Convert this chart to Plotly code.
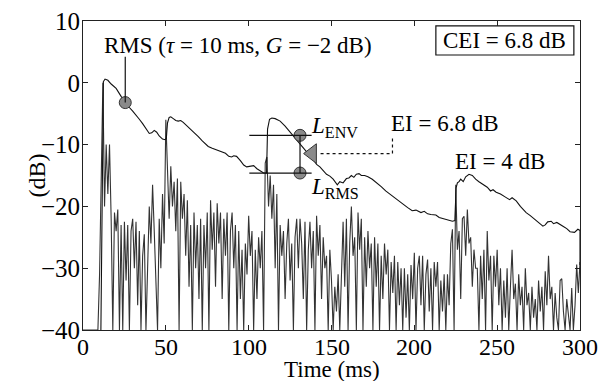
import plotly.graph_objects as go

# ---------------- data ----------------
sig_t = list(range(0, 301))
sig_db = [
    -40, -40, -40, -40, -40, -40, -40, -40, -40, -40,
    -31, -12, 0, -20, -10, -18, -10, -22, -40, -21,
    -24, -20.5, -40, -23, -40, -22.5, -32, -23, -40, -24,
    -22, -30, -22.5, -36, -24, -40, -28, -24.5, -40, -30,
    -20, -26, -16.5, -24, -31, -40, -22, -30, -18, -26,
    -6, -14, -22, -13.5, -20, -16, -24, -15.5, -40, -16,
    -22, -18, -28, -19, -33, -23, -40, -21, -30, -23,
    -35, -22, -40, -23, -30, -21, -40, -19, -27, -21,
    -33, -19.5, -26, -21, -35, -22, -28, -21, -40, -24,
    -21, -30, -23, -40, -24, -35, -27, -40, -26, -31,
    -21.5, -28, -24, -40, -27, -35, -25, -30, -24, -40,
    -13, -12, -20, -15, -22, -16.5, -30, -18, -40, -23,
    -28, -24, -35, -26, -22, -32, -26, -40, -25, -22,
    -30, -22, -26, -35, -22.5, -40, -27, -22.5, -30, -24,
    -40, -21.5, -28, -23, -35, -25, -30, -28, -40, -27,
    -32, -40, -33, -37, -31, -40, -30, -22.5, -33, -22,
    -40, -26, -20, -28, -25, -40, -21, -27, -22, -40,
    -25, -33, -24, -30, -26, -40, -25, -33, -26, -40,
    -28, -35, -26, -31, -27, -40, -29, -34, -28, -40,
    -29, -36, -30, -40, -30, -38, -31, -40, -29.5, -35,
    -27.5, -40, -30, -28, -36, -28, -40, -31, -28.6, -37,
    -30, -40, -29, -33, -29, -40, -32, -37, -31, -40,
    -31, -36, -26, -23.7, -40, -16.5, -27, -24, -35, -22,
    -21.6, -28, -20.5, -26, -25, -33, -27, -30, -30, -40,
    -28, -35, -27, -40, -24, -32, -28, -40, -28, -33,
    -27, -36, -30, -40, -32, -38, -30, -40, -33, -27,
    -35, -32.5, -40, -31, -36, -33, -40, -30, -36, -34,
    -40, -33, -38, -35, -40, -32, -37, -33, -40, -30.5,
    -36, -28, -35, -33, -40, -34, -38, -40, -32, -31.7,
    -37, -40, -35, -38, -40, -33.2, -40, -36, -29.4, -34,
    -29,
]

rms_t = [10.8, 12.3, 13.3, 15, 17, 20, 23, 25.5, 28, 30, 32, 34, 36, 38, 40, 41.5, 43, 44.5, 46, 48, 49.5,
         50.3, 51, 52, 53, 54.5, 56, 57.5, 59, 60.5, 63, 66, 69.6, 72, 75.6, 78, 80, 83.7, 86, 88, 89.7, 91,
         92.7, 95, 97, 98.8, 100.8, 103, 105, 107, 109, 110.8, 111.4, 112.6, 114, 116, 119, 122, 125, 128,
         131, 134, 136, 139, 141, 143, 145, 147, 149, 151, 153.5, 155, 157, 159, 160.5, 162, 163.5, 165,
         166.6, 168, 170, 172, 174.6, 177, 180, 182.7, 185, 188, 190.7, 193, 196, 198.7, 201, 204, 206, 208,
         210, 213, 215, 218, 220, 223, 224.5, 225.2, 226, 227, 228, 229.5, 231, 233, 235, 237, 239, 240, 242,
         244, 246, 247.5, 249.4, 252, 255, 257.5, 259, 261.5, 264, 267.5, 270, 273, 275, 277.6, 279, 280.5,
         282.6, 284, 286, 288, 289.7, 292, 294, 296.7, 298.7, 300, 300]
rms_db = [-40, 0.2, 0.6, 0.4, -0.2, -0.9, -2.2, -3.2, -4.0, -4.6, -5.2, -5.9, -6.6, -7.4, -8.2, -8.1, -7.7,
          -8.0, -8.6, -9.1, -9.2, -9.0, -6.5, -5.6, -5.5, -5.8, -6.1, -6.2, -6.1, -6.4, -7.0, -7.8, -8.7, -9.4,
          -10.3, -10.6, -10.8, -11.1, -11.4, -11.9, -12.0, -11.8, -11.9, -12.6, -13.3, -13.6, -13.5, -13.4,
          -13.9, -14.3, -14.6, -14.6, -7.5, -5.9, -5.7, -5.8, -6.2, -7.0, -8.0, -9.0, -10.0, -10.9, -11.5,
          -12.4, -13.2, -13.6, -14.2, -14.8, -15.1, -15.6, -16.5, -16.0, -16.2, -15.5, -15.4, -15.0, -15.3,
          -14.8, -14.7, -15.0, -15.0, -15.2, -15.6, -16.1, -16.8, -17.5, -18.0, -18.6, -19.1, -19.6, -20.2,
          -20.7, -20.6, -21.0, -20.8, -21.2, -21.3, -21.4, -21.8, -22.0, -22.1, -22.4, -22.3, -17.0, -16.2,
          -16.0, -15.6, -16.0, -15.2, -14.8, -15.0, -15.6, -16.0, -16.2, -16.5, -16.9, -17.5, -17.3, -17.7,
          -18.0, -18.5, -18.9, -18.6, -19.1, -20.0, -21.0, -21.5, -22.2, -22.6, -23.2, -23.0, -22.5, -22.4,
          -22.8, -22.6, -23.0, -23.2, -23.6, -24.1, -24.2, -23.7, -23.9, -29.5]

# annotation markers / levels
rms_marker_t, rms_marker_db = 25.5, -3.2
env_level, rms_level = -8.5, -14.6
level_t = 131
level_span = [100.4, 138]
ei_arrow_t, ei_arrow_db = 138.3, -11.45

x_ticks = [0, 50, 100, 150, 200, 250, 300]
y_ticks = [10, 0, -10, -20, -30, -40]

FONT = "Liberation Serif, Times New Roman, serif"

fig = go.Figure()
fig.add_trace(go.Scatter(x=sig_t, y=sig_db, mode="lines",
                         line=dict(color="#333", width=1.1), hoverinfo="skip"))
fig.add_trace(go.Scatter(x=rms_t, y=rms_db, mode="lines",
                         line=dict(color="#111", width=1.1), hoverinfo="skip"))

# level lines
for lv in (env_level, rms_level):
    fig.add_shape(type="line", x0=level_span[0], x1=level_span[1], y0=lv, y1=lv,
                  line=dict(color="#111", width=1.2))
fig.add_shape(type="line", x0=level_t, x1=level_t, y0=env_level, y1=rms_level,
              line=dict(color="#111", width=1.2))
# RMS pointer
fig.add_shape(type="line", x0=rms_marker_t, x1=rms_marker_t, y0=rms_marker_db, y1=4.2,
              line=dict(color="#111", width=1.2))
# dotted EI pointer
fig.add_shape(type="path", path="M 143.4,-11.45 L 186.8,-11.45 L 186.8,-8.66",
              line=dict(color="#111", width=1.2, dash="dot"))
# CEI box
fig.add_shape(type="rect", x0=213.0, x1=296.3, y0=4.5, y1=9.2,
              line=dict(color="#111", width=1.2), fillcolor="white", layer="below")

fig.add_trace(go.Scatter(x=[rms_marker_t, level_t, level_t], y=[rms_marker_db, env_level, rms_level],
                         mode="markers", marker=dict(size=12, color="#8a8a8a",
                                                     line=dict(color="#333", width=1)),
                         hoverinfo="skip"))
fig.add_trace(go.Scatter(x=[ei_arrow_t], y=[ei_arrow_db], mode="markers",
                         marker=dict(symbol="triangle-left", size=17, color="#8a8a8a",
                                     line=dict(color="#333", width=1)), hoverinfo="skip"))

tf = dict(family=FONT, size=23, color="black")
fig.add_annotation(x=11.2, y=6.0, text="RMS (<i>τ</i> = 10 ms, <i>G</i> = −2 dB)", showarrow=False,
                   xanchor="left", yanchor="middle", font=tf)
fig.add_annotation(x=254.7, y=6.85, text="CEI = 6.8 dB", showarrow=False,
                   xanchor="center", yanchor="middle", font=tf)
fig.add_annotation(x=136.5, y=-7.2, text="<i>L</i><sub>ENV</sub>", showarrow=False,
                   xanchor="left", yanchor="middle", font=tf)
fig.add_annotation(x=136.5, y=-17.0, text="<i>L</i><sub>RMS</sub>", showarrow=False,
                   xanchor="left", yanchor="middle", font=tf)
fig.add_annotation(x=184.5, y=-6.6, text="EI = 6.8 dB", showarrow=False,
                   xanchor="left", yanchor="middle", font=tf)
fig.add_annotation(x=251.7, y=-12.7, text="EI = 4 dB", showarrow=False,
                   xanchor="center", yanchor="middle", font=tf)

# x tick labels (placed close to axis as in the original)
xf = dict(family=FONT, size=24, color="black")
for xv in x_ticks:
    fig.add_annotation(x=xv, y=0, xref="x", yref="paper", yanchor="middle", yshift=-17,
                       text=str(xv), showarrow=False, font=xf)

# axis titles
lf = dict(family=FONT, size=23, color="black")
fig.add_annotation(x=0.5, y=0, xref="paper", yref="paper", yanchor="middle", yshift=-39,
                   text="Time (ms)", showarrow=False, font=lf)
fig.add_annotation(x=0, y=0.5, xref="paper", yref="paper", xanchor="center", xshift=-47,
                   text="(dB)", textangle=-90, showarrow=False, font=dict(family=FONT, size=24, color="black"))

axis_common = dict(showline=True, linecolor="#222", linewidth=1, mirror="ticks", ticks="inside",
                   ticklen=5, tickcolor="#222", showgrid=False, zeroline=False, automargin=False,
                   tickfont=dict(family=FONT, size=25, color="black"))
fig.update_xaxes(range=[0, 300], tickvals=x_ticks, showticklabels=False, **axis_common)
fig.update_yaxes(range=[-40, 10], tickvals=y_ticks, ticktext=[str(v).replace("-", "−") for v in y_ticks],
                 ticklabelstandoff=-3, **axis_common)
fig.update_layout(width=603, height=381, margin=dict(l=83, r=23, t=21, b=51),
                  paper_bgcolor="white", plot_bgcolor="white", showlegend=False)
fig.write_html("out.html")
